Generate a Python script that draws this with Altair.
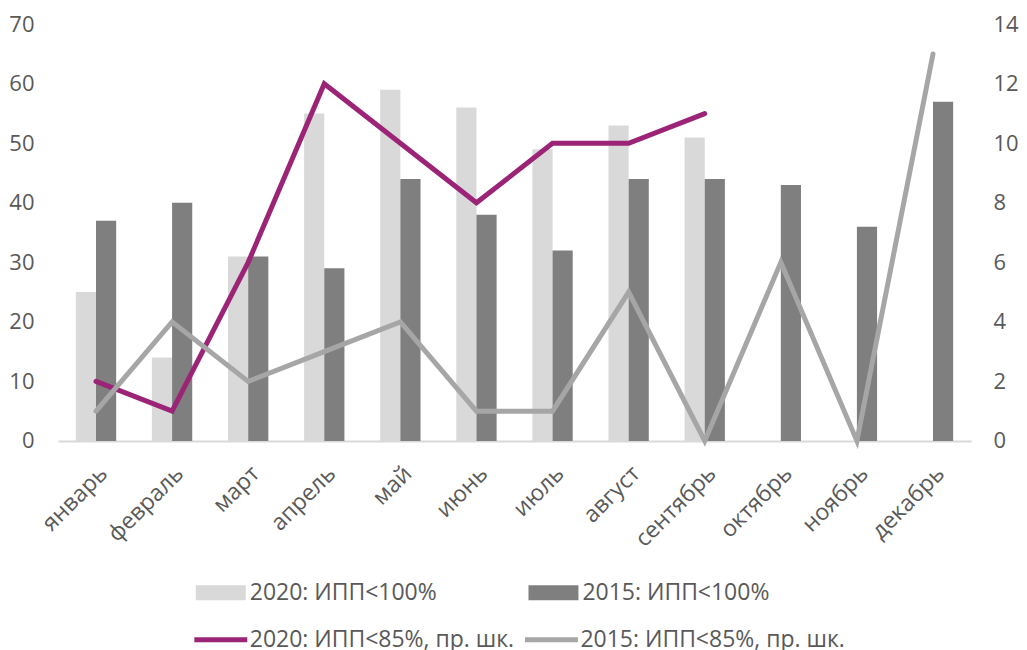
import altair as alt
import pandas as pd

months = ["январь", "февраль", "март", "апрель", "май", "июнь", "июль",
          "август", "сентябрь", "октябрь", "ноябрь", "декабрь"]
bars_2020 = [25, 14, 31, 55, 59, 56, 49, 53, 51, None, None, None]
bars_2015 = [37, 40, 31, 29, 44, 38, 32, 44, 44, 43, 36, 57]
line_2020 = [2, 1, 6, 12, 10, 8, 10, 10, 11, None, None, None]
line_2015 = [1, 4, 2, 3, 4, 1, 1, 5, 0, 6, 0, 13]

bar_names = ["2020: ИПП<100%", "2015: ИПП<100%"]
line_names = ["2020: ИПП<85%, пр. шк.", "2015: ИПП<85%, пр. шк."]

FONT = "Open Sans"
TXT = "#595959"

bar_rows = []
for m, a, b in zip(months, bars_2020, bars_2015):
    if a is not None:
        bar_rows.append({"month": m, "series": bar_names[0], "value": a})
    bar_rows.append({"month": m, "series": bar_names[1], "value": b})
bar_df = pd.DataFrame(bar_rows)

l20 = pd.DataFrame([{"month": m, "series": line_names[0], "value": v}
                    for m, v in zip(months, line_2020) if v is not None])
l15 = pd.DataFrame([{"month": m, "series": line_names[1], "value": v}
                    for m, v in zip(months, line_2015) if v is not None])

x_enc = alt.X("month:N", sort=months, title=None,
              scale=alt.Scale(paddingInner=0.47, paddingOuter=0.235),
              axis=alt.Axis(labelAngle=-45, labelFontSize=23, labelColor=TXT,
                            labelFont=FONT, ticks=False, domainColor="#d9d9d9",
                            domainWidth=2, labelPadding=21))

bars = alt.Chart(bar_df).mark_bar().encode(
    x=x_enc,
    xOffset=alt.XOffset("series:N", scale=alt.Scale(domain=bar_names)),
    y=alt.Y("value:Q", title=None,
            scale=alt.Scale(domain=[0, 70]),
            axis=alt.Axis(values=list(range(0, 71, 10)), grid=False, ticks=False,
                          domain=False, labelFontSize=22, labelColor=TXT,
                          labelFont=FONT, labelPadding=24)),
    fill=alt.Fill("series:N", scale=alt.Scale(domain=bar_names, range=["#d9d9d9", "#7f7f7f"]),
                  legend=alt.Legend(title=None, orient="none", legendX=138, legendY=544,
                                    direction="horizontal", columns=2, columnPadding=91,
                                    symbolType="M-1,-0.3H1V0.3H-1Z", symbolSize=2500,
                                    symbolStrokeWidth=0, labelFontSize=23,
                                    labelColor=TXT, labelFont=FONT, labelOffset=4,
                                    labelLimit=400)),
)

y_right = alt.Y("value:Q", title=None, scale=alt.Scale(domain=[0, 14]),
                axis=alt.Axis(orient="right", values=list(range(0, 15, 2)), grid=False,
                              ticks=False, domain=False, labelFontSize=22,
                              labelColor=TXT, labelFont=FONT, labelPadding=22))


def line_legend(x):
    return alt.Legend(title=None, orient="none", legendX=x, legendY=587,
                      symbolType="stroke", symbolSize=2809,
                      symbolStrokeWidth=5, labelFontSize=23,
                      labelColor=TXT, labelFont=FONT, labelOffset=0,
                      labelLimit=400)


x_line = alt.X("month:N", sort=months, bandPosition=0.5)

line_a = alt.Chart(l20).mark_line(strokeWidth=5, strokeCap="round", strokeJoin="miter").encode(
    x=x_line, y=y_right,
    stroke=alt.Stroke("series:N", scale=alt.Scale(domain=[line_names[0]], range=["#9b2476"]),
                      legend=line_legend(134)))
line_b = alt.Chart(l15).mark_line(strokeWidth=5, strokeCap="round", strokeJoin="miter").encode(
    x=x_line, y=y_right,
    color=alt.Color("series:N", scale=alt.Scale(domain=[line_names[1]], range=["#a6a6a6"]),
                    legend=line_legend(465)))

lines = alt.layer(line_a, line_b)

chart = alt.layer(bars, lines).resolve_scale(y="independent").properties(
    width=914, height=417,
    padding={"left": 0, "top": 5, "right": 0, "bottom": 0},
).configure(font=FONT, background="white", view=alt.ViewConfig(stroke=None))

chart.save("out.html", embed_options={"renderer": "svg", "actions": False})
